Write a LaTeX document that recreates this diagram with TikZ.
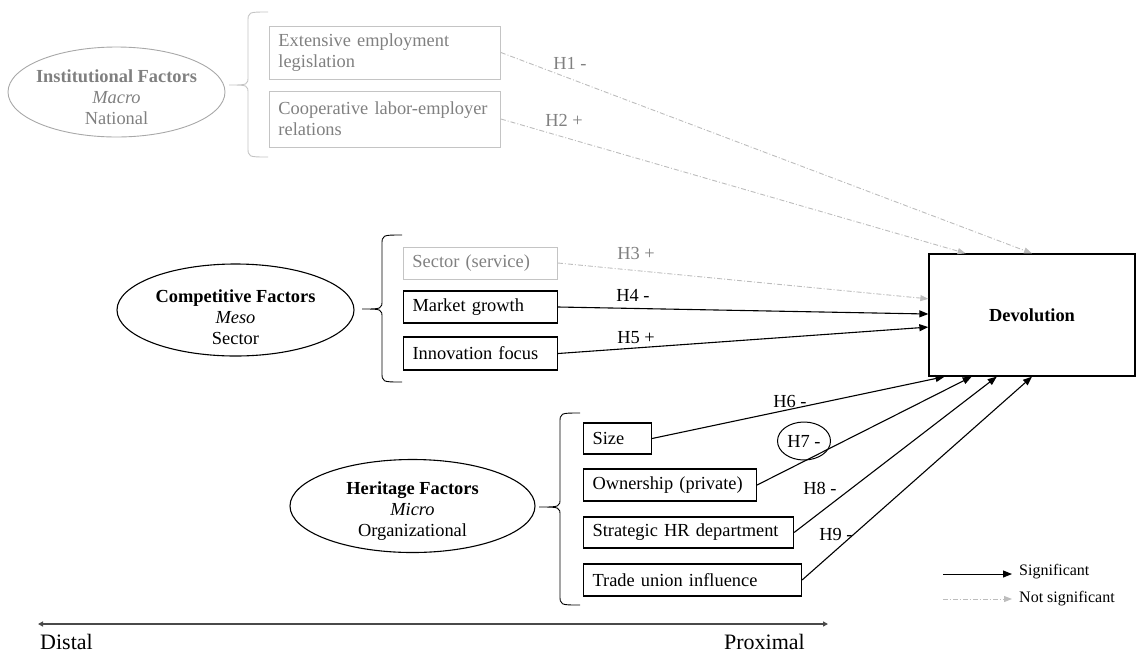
\documentclass[tikz,border=0pt]{standalone}
\usepackage{fontspec}
\setmainfont{Liberation Serif}
\usetikzlibrary{shapes.geometric,arrows.meta,calc}
\definecolor{gtext}{HTML}{808080}
\definecolor{gline}{HTML}{BDBDBD}
\definecolor{gbox}{HTML}{C4C4C4}
\definecolor{gell}{HTML}{A8A8A8}
\definecolor{axis}{HTML}{4A4A4A}
\newcommand\drawbrace[7]{%
  \draw[#1] (#2,#4) .. controls (#3,#4) .. (#3,#4+10) -- (#3,#7-9)
    .. controls (#3,#7) .. (#6,#7) .. controls (#3,#7) .. (#3,#7+9)
    -- (#3,#5-10) .. controls (#3,#5) .. (#2,#5);}
\begin{document}
\begin{tikzpicture}[x=1pt,y=-1pt,
  font=\fontsize{18.4}{21}\selectfont,
  box/.style={draw, line width=1.1pt, rectangle, inner xsep=9pt, inner ysep=0pt,
    align=left, anchor=west},
  gbox/.style={box, draw=gbox, text=gtext, line width=0.9pt},
  factor/.style={ellipse, draw, line width=1.1pt, inner sep=0pt},
  lab/.style={inner sep=0pt},
  glab/.style={inner sep=0pt, text=gtext},
  sig/.style={-{Triangle[length=9pt,width=7pt]}, line width=1.1pt, black},
  nsig/.style={-{Triangle[length=8pt,width=6pt,fill=gline]}, draw=gline, line width=0.9pt,
    dash pattern=on 5pt off 2pt on 1pt off 2pt},
  brace/.style={line width=0.9pt}
]
\useasboundingbox (0,0) rectangle (1137,654);

% ---------- Institutional ----------
\node[factor, draw=gell, line width=0.9pt, minimum width=217, minimum height=90,
  label={[glab, align=center, yshift=-5pt]center:{\textbf{Institutional Factors}\\\textit{Macro}\\National}}]
  (inst) at (116.5,92) {};
\drawbrace{brace, draw=gbox}{268}{248}{12}{157}{229}{85}
\node[gbox, text width=213pt, minimum height=53] (ins1) at (269,52.5) {Extensive employment\\legislation};
\node[gbox, text width=213pt, minimum height=56] (ins2) at (269,119) {Cooperative labor-employer\\relations};

% ---------- Competitive ----------
\node[factor, minimum width=237, minimum height=92,
  label={[lab, align=center, yshift=-7pt]center:{\textbf{Competitive Factors}\\\textit{Meso}\\Sector}}]
  (comp) at (235.5,310) {};
\drawbrace{brace}{402}{382}{235}{382}{362}{309}
\node[gbox, text width=136pt, minimum height=32] (sec) at (403,263) {Sector (service)};
\node[box, text width=136pt, minimum height=32] (mkt) at (403,307) {Market growth};
\node[box, text width=136pt, minimum height=33] (inn) at (403,353.5) {Innovation focus};

% ---------- Heritage ----------
\node[factor, minimum width=245, minimum height=93,
  label={[lab, align=center, yshift=-5pt]center:{\textbf{Heritage Factors}\\\textit{Micro}\\Organizational}}]
  (her) at (412.5,506) {};
\drawbrace{brace}{580}{560}{413}{605}{539}{507}
\node[box, text width=50pt, minimum height=31] (size) at (583,438.5) {Size};
\node[box, text width=155pt, minimum height=32] (own) at (583,485) {Ownership (private)};
\node[box, text width=192pt, minimum height=31] (shr) at (583,532.5) {Strategic HR department};
\node[box, text width=200pt, minimum height=32] (tu) at (583,580) {Trade union influence};

% ---------- Devolution ----------
\node[draw, line width=1.3pt, minimum width=206, minimum height=122, inner sep=0pt,
  font=\fontsize{18.4}{21}\selectfont\bfseries] (dev) at (1032,315) {Devolution};

% ---------- connectors ----------
\draw[nsig] (ins1.east) -- ($(dev.north west)!0.5!(dev.north east)$);
\draw[nsig] (ins2.east) -- ($(dev.north west)!0.18!(dev.north east)$);
\draw[nsig] (sec.east) -- ($(dev.north west)!0.369!(dev.south west)$);
\draw[sig] (mkt.east) -- ($(dev.north west)!0.492!(dev.south west)$);
\draw[sig] (inn.east) -- ($(dev.north west)!0.598!(dev.south west)$);
\draw[sig] (size.east) -- ($(dev.south west)!0.078!(dev.south east)$);
\draw[sig] (own.east) -- ($(dev.south west)!0.209!(dev.south east)$);
\draw[sig] (shr.east) -- ($(dev.south west)!0.33!(dev.south east)$);
\draw[sig] (tu.east) -- ($(dev.south west)!0.5!(dev.south east)$);

% ---------- hypothesis labels ----------
\node[glab] (h1) at (570,63) {H1 -};
\node[glab] (h2) at (564,120) {H2 +};
\node[glab] (h3) at (636,253) {H3 +};
\node[lab] (h4) at (633,295) {H4 -};
\node[lab] (h5) at (636,338) {H5 +};
\node[lab] (h6) at (790,401) {H6 -};
\node[ellipse, draw, line width=1pt, minimum width=53, minimum height=38, inner sep=0pt] (h7) at (804,441) {H7 -};
\node[lab] (h8) at (820,488) {H8 -};
\node[lab] (h9) at (836,534) {H9 -};

% ---------- legend ----------
\coordinate (lg1) at (943,574);
\coordinate (lg2) at (943,599);
\node[anchor=west, inner xsep=7pt, inner ysep=0pt, font=\fontsize{16}{18}\selectfont] (ls) at (1012,572) {Significant};
\node[anchor=west, inner xsep=7pt, inner ysep=0pt, font=\fontsize{16}{18}\selectfont] (ln) at (1012,599) {Not significant};
\draw[sig, line width=1pt] (lg1) -- (lg1 -| ls.west);
\draw[nsig] (lg2) -- (ln.west);

% ---------- distal / proximal axis ----------
\coordinate (axl) at (38,624);
\coordinate (axr) at (828,624);
\draw[{Triangle[length=5pt,width=5pt]}-{Triangle[length=5pt,width=5pt]}, draw=axis, line width=1.8pt] (axl) -- (axr);
\node[anchor=west, inner sep=0pt, font=\fontsize{22}{24}\selectfont] (distal) at (40,642) {Distal};
\node[anchor=east, inner sep=0pt, font=\fontsize{22}{24}\selectfont] (prox) at (805,642) {Proximal};
\end{tikzpicture}
\end{document}
